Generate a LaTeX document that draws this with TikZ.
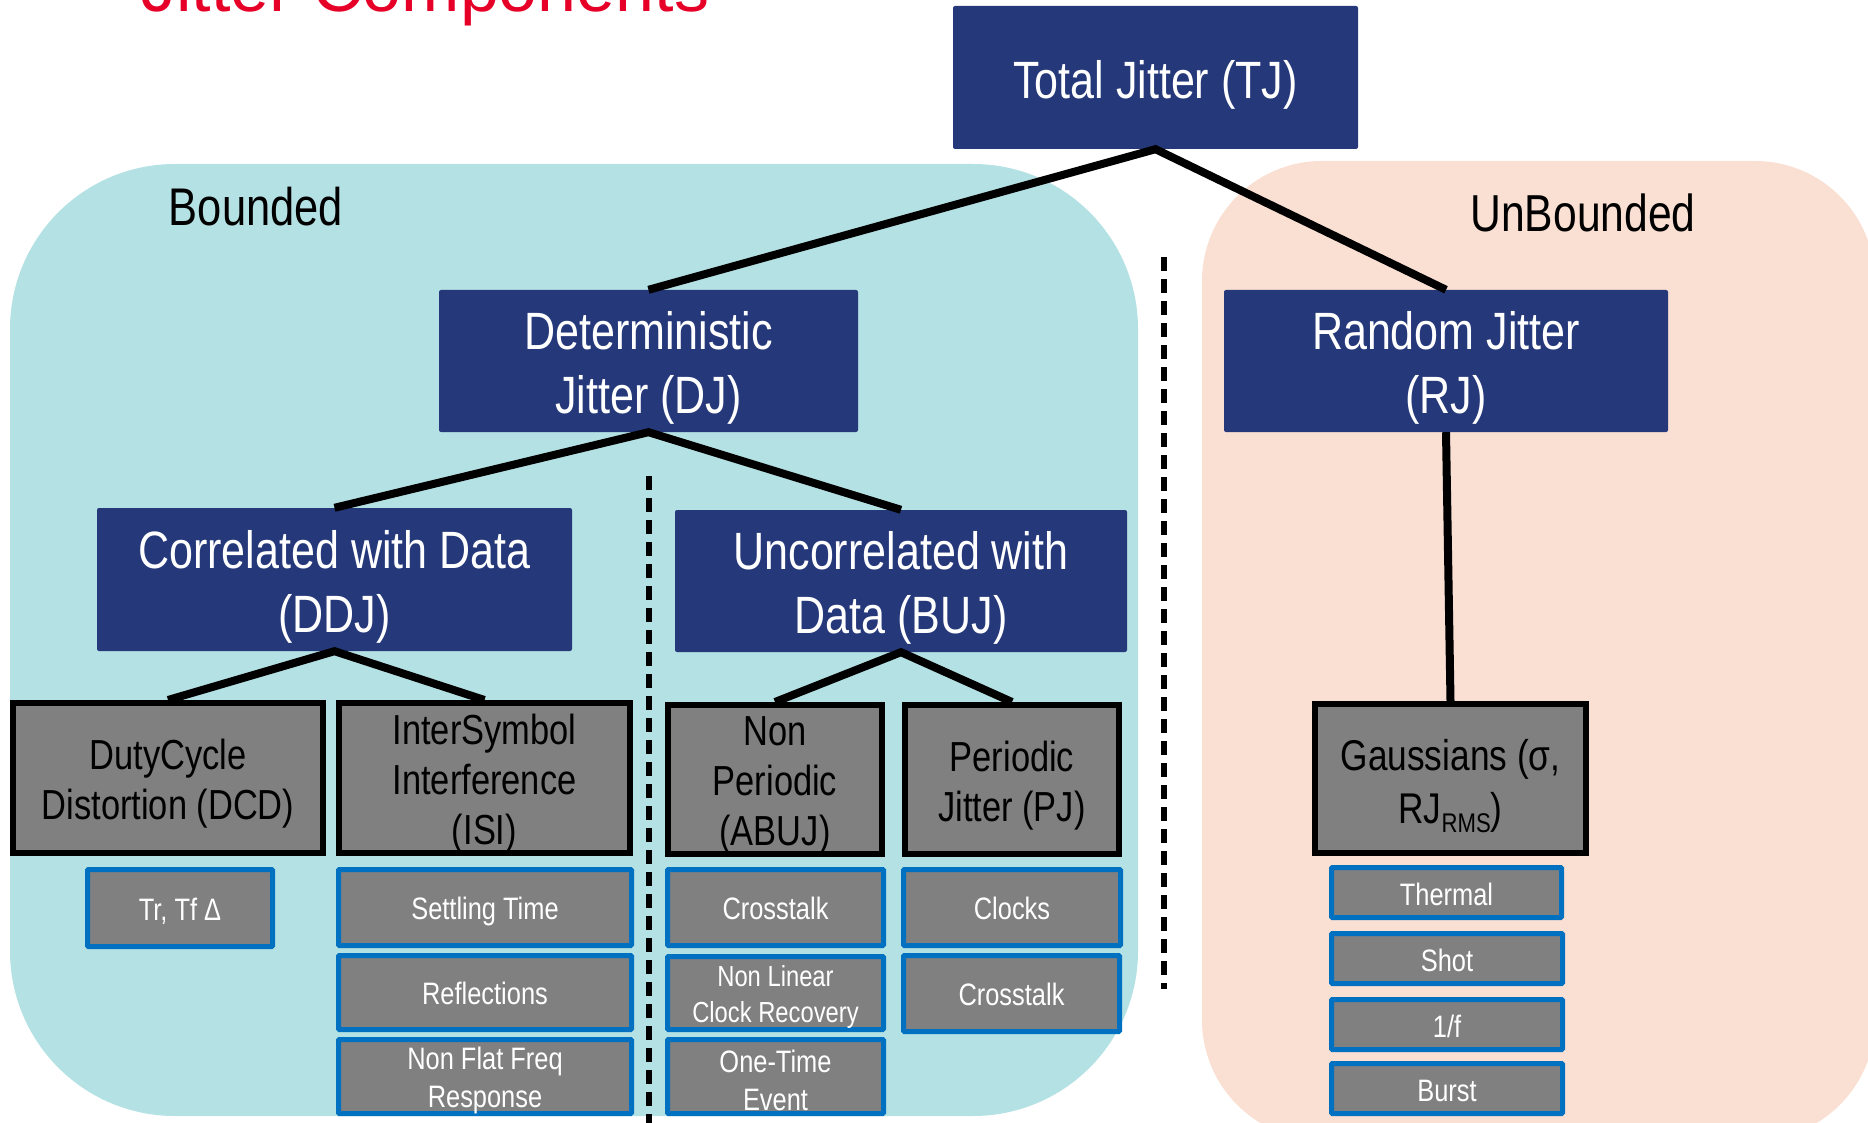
\documentclass[tikz,border=0pt]{standalone}
\usepackage{fontspec}
\setmainfont{Liberation Sans}
\newfontfamily\narfont[FakeStretch=0.82]{Liberation Sans}
\definecolor{djblue}{HTML}{25387A}
\definecolor{boxgray}{HTML}{808080}
\definecolor{edgeblue}{HTML}{0070C0}
\definecolor{tealbg}{HTML}{B4E1E4}
\definecolor{pinkbg}{HTML}{FADFD3}
\definecolor{titlered}{HTML}{E60028}
\newcommand\fblue{\narfont\fontsize{52.5}{64}\selectfont}
\newcommand\fgray{\narfont\fontsize{42}{50}\selectfont}
\newcommand\fsmall{\narfont\fontsize{31}{38}\selectfont}
\newcommand\fsmaller{\narfont\fontsize{29}{36}\selectfont}
\begin{document}
\begin{tikzpicture}[x=1pt,y=-1pt,
  sz/.style 2 args={minimum width=#1,minimum height=#2},
  bluebox/.style={fill=djblue,inner sep=0pt,rounded corners=2pt},
  bluetext/.style={text=white,inner sep=0pt,align=center,font=\fblue},
  graybox/.style={fill=boxgray,draw=black,line width=6pt,inner sep=0pt},
  graytext/.style={text=black,inner sep=0pt,align=center,font=\fgray},
  leafbox/.style={fill=boxgray,draw=edgeblue,line width=5pt,inner sep=0pt,rounded corners=1pt},
  leaftext/.style={text=white,inner sep=0pt,align=center,font=\fsmall},
  oneline/.style={text height=22.6pt,text depth=6.5pt},
  conn/.style={line width=8pt,black},
  divider/.style={line width=6pt,black,dash pattern=on 14pt off 8pt},
  region/.style={font=\narfont\fontsize{53}{60}\selectfont,anchor=base,inner sep=0pt}]
\useasboundingbox (0,0) rectangle (1868,1123);
\clip (0,0) rectangle (1868,1123);
% background regions
\fill[pinkbg,rounded corners=120pt] (1202,161) rectangle (1875,1140);
\fill[tealbg,rounded corners=165pt] (10,164) rectangle (1138,1116);
% title (cut off at the top, as in the original)
\node[anchor=base west,inner sep=0pt,text=titlered,font=\fontsize{70}{84}\selectfont] (title) at (141,12) {Jitter Components};
% region labels
\node[region] (bounded) at (256,226) {Bounded};
\node[region,font=\narfont\fontsize{52}{60}\selectfont] (unbounded) at (1583,232) {UnBounded};
% dashed dividers
\coordinate (d1a) at (1164,257);
\coordinate (d1b) at (1164,989);
\coordinate (d2a) at (648.5,476);
\coordinate (d2b) at (648.5,1123);
\draw[divider] (d1a) -- (d1b);
\draw[divider] (d2a) -- (d2b);
% main boxes
\node[bluebox,sz={405}{143}] (tj) at (1155.5,77.5) {};
\node[bluebox,sz={419}{142}] (dj) at (648.5,361) {};
\node[bluebox,sz={444}{142}] (rj) at (1446,361) {};
\node[bluebox,sz={475}{143}] (ddj) at (334.5,579.5) {};
\node[bluebox,sz={452}{142}] (buj) at (901,581) {};
% gray category boxes
\node[graybox,sz={310}{150}] (dcd) at (168,778) {};
\node[graybox,sz={291}{150}] (isi) at (484.5,778) {};
\node[graybox,sz={214}{149}] (abuj) at (775,779.5) {};
\node[graybox,sz={214}{149}] (pj) at (1012,779.5) {};
\node[graybox,sz={271}{149}] (gau) at (1450.5,778.5) {};
% leaf boxes
\node[leafbox,sz={185}{77}] (trtf) at (180,908) {};
\node[leafbox,sz={293}{76}] (sett) at (485,907.5) {};
\node[leafbox,sz={293}{74}] (refl) at (485,992.5) {};
\node[leafbox,sz={293}{74}] (nff) at (485,1076.5) {};
\node[leafbox,sz={216}{76}] (xt1) at (775.5,907.5) {};
\node[leafbox,sz={216}{73}] (nlcr) at (775.5,993) {};
\node[leafbox,sz={216}{74}] (ote) at (775.5,1076.5) {};
\node[leafbox,sz={217}{76}] (clk) at (1012,907.5) {};
\node[leafbox,sz={216}{76}] (xt2) at (1011.5,993.5) {};
\node[leafbox,sz={230}{50}] (ther) at (1446.5,892.5) {};
\node[leafbox,sz={231}{50}] (shot) at (1447,958.5) {};
\node[leafbox,sz={231}{50}] (onef) at (1447,1024.5) {};
\node[leafbox,sz={231}{50}] (burst) at (1447,1088.5) {};
% texts
\node[bluetext] (tjt) at ([yshift=-7pt]tj.center) {Total Jitter (TJ)};
\node[bluetext] (djt) at ([yshift=-7pt]dj.center) {Deterministic\\Jitter (DJ)};
\node[bluetext] (rjt) at ([yshift=-7pt]rj.center) {Random Jitter\\(RJ)};
\node[bluetext] (ddjt) at ([yshift=-7pt]ddj.center) {Correlated with Data\\(DDJ)};
\node[bluetext] (bujt) at ([yshift=-7pt]buj.center) {Uncorrelated with\\Data (BUJ)};
\node[graytext] (dcdt) at ([yshift=-6pt]dcd.center) {DutyCycle\\Distortion (DCD)};
\node[graytext] (isit) at ([yshift=-6pt]isi.center) {InterSymbol\\Interference\\(ISI)};
\node[graytext] (abujt) at ([yshift=-6pt]abuj.center) {Non\\Periodic\\(ABUJ)};
\node[graytext] (pjt) at ([yshift=-6pt]pj.center) {Periodic\\Jitter (PJ)};
\node[graytext,font=\narfont\fontsize{43}{53}\selectfont] (gaut) at ([yshift=-8pt]gau.center) {Gaussians (σ,\\RJ\raisebox{-9pt}{\narfont\fontsize{27}{27}\selectfont RMS})};
\node[leaftext,oneline] (trtft) at ([yshift=-4pt]trtf.center) {Tr, Tf Δ};
\node[leaftext,oneline] (settt) at ([yshift=-4pt]sett.center) {Settling Time};
\node[leaftext,oneline] (reflt) at ([yshift=-4pt]refl.center) {Reflections};
\node[leaftext] (nfft) at ([yshift=-4pt]nff.center) {Non Flat Freq\\Response};
\node[leaftext,oneline] (xt1t) at ([yshift=-4pt]xt1.center) {Crosstalk};
\node[leaftext,font=\fsmaller] (nlcrt) at ([yshift=-4pt]nlcr.center) {Non Linear\\Clock Recovery};
\node[leaftext] (otet) at ([yshift=-4pt]ote.center) {One-Time\\Event};
\node[leaftext,oneline] (clkt) at ([yshift=-4pt]clk.center) {Clocks};
\node[leaftext,oneline] (xt2t) at ([yshift=-4pt]xt2.center) {Crosstalk};
\node[leaftext,oneline] (thert) at ([yshift=-5pt]ther.center) {Thermal};
\node[leaftext,oneline] (shott) at ([yshift=-5pt]shot.center) {Shot};
\node[leaftext,oneline] (oneft) at ([yshift=-5pt]onef.center) {1/f};
\node[leaftext,oneline] (burstt) at ([yshift=-5pt]burst.center) {Burst};
% connectors
\draw[conn] (dj.north) -- (tj.south) -- (rj.north);
\draw[conn] (ddj.north) -- (dj.south) -- (buj.north);
\draw[conn] (dcd.north) -- (ddj.south) -- (isi.north);
\draw[conn] (abuj.north) -- (buj.south) -- (pj.north);
\draw[conn] (rj.south) -- (gau.north);
\end{tikzpicture}
\end{document}
